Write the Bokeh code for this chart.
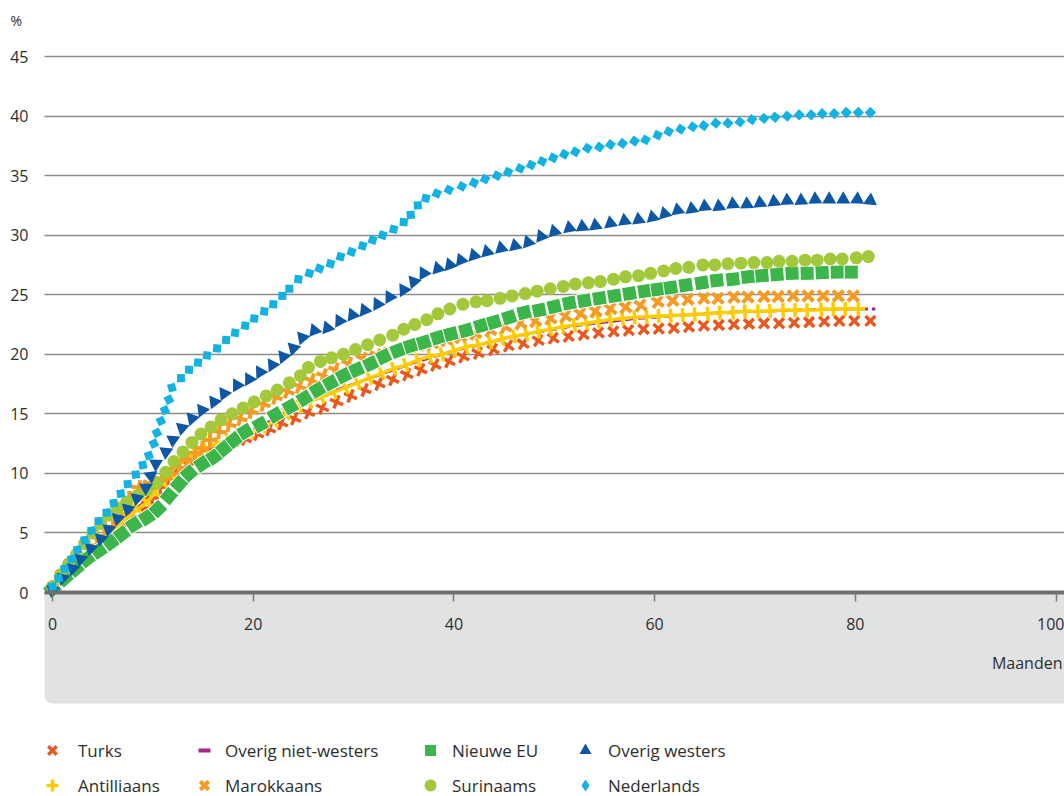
import numpy as np
from bokeh.plotting import figure
from bokeh.models import (Range1d, LinearAxis, FixedTicker, Label, BoxAnnotation,
                          Legend, LegendItem, Grid)
from bokeh.embed import file_html
from bokeh.resources import INLINE

FONT = "Open Sans"
TXT = "#2e2e2e"

# ---------------- data (months, percentage) ----------------
x_ticks = [0, 20, 40, 60, 80, 100]
y_ticks = [0, 5, 10, 15, 20, 25, 30, 35, 40, 45]

tur_m = [0, 1.0, 2.0, 3.0, 4.0, 5.0, 6.0, 7.0, 8.0, 9.0, 9.9, 10.7, 11.5, 12.4, 13.4, 14.5, 15.6, 16.8, 18.0, 19.2,
         20.4, 21.6, 22.8, 24.1, 25.5, 26.9, 28.3, 29.7, 31.1, 32.5, 33.9, 35.3, 36.7, 38.1, 39.5, 40.9, 42.4, 43.9,
         45.4, 46.9, 48.4, 49.9, 51.4, 52.9, 54.4, 55.9, 57.4, 58.9, 60.4, 61.9, 63.4, 64.9, 66.4, 67.9, 69.4, 70.9,
         72.4, 73.9, 75.4, 76.9, 78.4, 79.9, 81.5]
tur_v = [0.3, 1.1, 1.9, 2.7, 3.5, 4.3, 5.0, 5.7, 6.4, 7.1, 7.9, 8.8, 9.6, 10.3, 10.9, 11.4, 11.8, 12.2, 12.6, 12.9,
         13.3, 13.7, 14.2, 14.6, 15.1, 15.5, 16.0, 16.5, 17.0, 17.5, 17.9, 18.3, 18.7, 19.1, 19.4, 19.8, 20.1, 20.4,
         20.7, 20.9, 21.15, 21.35, 21.5, 21.65, 21.8, 21.9, 22.0, 22.1, 22.15, 22.2, 22.3, 22.4, 22.45, 22.5, 22.55,
         22.6, 22.6, 22.65, 22.7, 22.75, 22.8, 22.8, 22.8]

ant_m = [0, 0.9, 1.8, 2.7, 3.6, 4.6, 5.5, 6.5, 7.5, 8.5, 9.4, 10.2, 10.9, 11.6, 12.4, 13.3, 14.3, 15.3, 16.4, 17.5,
         18.6, 19.7, 20.9, 22.1, 23.3, 24.5, 25.6, 26.8, 28.0, 29.2, 30.4, 31.6, 32.8, 34.0, 35.2, 36.4, 37.6, 38.8,
         40.0, 41.2, 42.4, 43.6, 44.8, 46.0, 47.2, 48.4, 49.6, 50.8, 52.0, 53.2, 54.4, 55.6, 56.8, 58.0, 59.2, 60.4,
         61.6, 62.8, 64.0, 65.3, 66.5, 67.8, 69.0, 70.3, 71.5, 72.8, 74.0, 75.2, 76.6, 77.8, 79.0, 80.3]
ant_v = [0.4, 1.2, 2.0, 2.8, 3.5, 4.2, 4.9, 5.6, 6.3, 7.0, 7.6, 8.4, 9.2, 10.0, 10.6, 11.2, 11.7, 12.1, 12.5, 12.8,
         13.1, 13.4, 13.9, 14.4, 15.0, 15.6, 16.0, 16.4, 16.8, 17.2, 17.6, 18.0, 18.4, 18.8, 19.1, 19.5, 19.8, 20.0,
         20.3, 20.6, 20.8, 21.0, 21.3, 21.5, 21.7, 21.9, 22.1, 22.3, 22.45, 22.6, 22.75, 22.9, 23.0, 23.1, 23.15, 23.2,
         23.25, 23.3, 23.35, 23.4, 23.5, 23.5, 23.6, 23.6, 23.65, 23.7, 23.7, 23.7, 23.75, 23.8, 23.8, 23.8]

onw_m = [0, 2, 4, 6, 8, 9, 10, 11, 12, 13, 14, 16, 18, 20, 22, 24, 26, 28, 30, 32, 34, 36, 38, 40, 42, 44, 46, 48,
         50, 52, 54, 56, 58, 60, 62, 64, 66, 68, 70, 72, 74, 76, 78, 80, 82]
onw_v = [0.3, 2.0, 3.7, 5.3, 6.8, 7.5, 8.4, 9.4, 10.2, 10.8, 11.4, 12.3, 13.0, 13.7, 14.5, 15.5, 16.2, 16.9, 17.5,
         18.1, 18.7, 19.3, 19.8, 20.3, 20.7, 21.1, 21.5, 21.8, 22.1, 22.4, 22.6, 22.8, 23.0, 23.1, 23.25, 23.35,
         23.45, 23.55, 23.6, 23.65, 23.7, 23.75, 23.8, 23.8, 23.8]

mar_m = [0, 0.9, 1.8, 2.7, 3.6, 4.4, 5.2, 6.0, 6.8, 7.7, 8.6, 9.7, 10.8, 11.8, 12.6, 13.4, 14.2, 14.9, 15.7, 16.6,
         17.6, 18.7, 19.8, 21.0, 22.2, 23.4, 24.6, 25.8, 27.0, 28.2, 29.5, 30.9, 32.3, 33.6, 35.0, 36.4, 37.8, 39.2,
         40.6, 42.1, 43.6, 45.1, 46.6, 48.1, 49.6, 51.1, 52.6, 54.1, 55.6, 57.1, 58.6, 60.3, 61.8, 63.3, 64.9, 66.3,
         67.9, 69.3, 70.9, 72.3, 73.8, 75.3, 76.8, 78.3, 79.8]
mar_v = [0.3, 1.2, 2.1, 3.0, 3.9, 4.7, 5.5, 6.2, 7.0, 7.9, 8.8, 9.1, 9.5, 10.0, 10.5, 11.1, 11.7, 12.1, 12.8, 13.5,
         14.1, 14.6, 15.2, 15.8, 16.4, 16.9, 17.3, 17.8, 18.2, 18.7, 19.2, 19.6, 19.9, 20.2, 20.5, 20.7, 20.9, 21.2,
         21.45, 21.75, 22.0, 22.3, 22.6, 22.8, 23.0, 23.2, 23.4, 23.6, 23.8, 23.95, 24.1, 24.4, 24.5, 24.6, 24.7,
         24.7, 24.8, 24.8, 24.85, 24.85, 24.9, 24.9, 24.9, 24.9, 24.9]

neu_m = [0, 1.2, 2.3, 3.4, 4.6, 5.8, 6.9, 8.1, 9.4, 10.5, 11.6, 12.6, 13.6, 14.9, 16.1, 17.1, 18.1, 19.2, 20.7, 22.2,
         23.7, 25.1, 26.4, 27.7, 29.0, 30.3, 31.7, 33.0, 34.4, 35.7, 37.0, 38.4, 39.7, 41.2, 42.7, 44.0, 45.5, 47.0,
         48.5, 50.0, 51.5, 53.0, 54.5, 56.0, 57.5, 59.0, 60.3, 61.6, 63.1, 64.7, 66.2, 67.8, 69.3, 70.7, 72.2, 73.7,
         75.2, 76.7, 78.2, 79.6]
neu_v = [0.3, 1.2, 2.0, 2.8, 3.5, 4.2, 4.9, 5.7, 6.3, 7.0, 8.1, 9.1, 10.0, 10.8, 11.4, 12.1, 12.8, 13.5, 14.1, 14.9,
         15.6, 16.3, 17.0, 17.6, 18.2, 18.7, 19.2, 19.8, 20.3, 20.7, 21.0, 21.4, 21.7, 22.0, 22.4, 22.7, 23.1, 23.5,
         23.7, 24.0, 24.3, 24.5, 24.7, 24.9, 25.1, 25.3, 25.45, 25.6, 25.8, 26.0, 26.2, 26.3, 26.5, 26.6, 26.7, 26.8,
         26.8, 26.85, 26.9, 26.9]

sur_m = [0, 0.8, 1.6, 2.4, 3.2, 4.0, 4.8, 5.6, 6.5, 7.4, 8.4, 9.4, 10.4, 11.3, 12.1, 13.0, 13.9, 14.8, 15.8, 16.8,
         17.9, 19.0, 20.1, 21.3, 22.4, 23.6, 24.7, 25.5, 26.7, 27.8, 29.0, 30.2, 31.4, 32.6, 33.9, 35.0, 36.1, 37.3,
         38.4, 39.6, 40.9, 42.2, 43.3, 44.6, 45.8, 47.1, 48.3, 49.6, 50.9, 52.1, 53.4, 54.6, 55.9, 57.1, 58.4, 59.6,
         60.9, 62.1, 63.4, 64.8, 66.0, 67.3, 68.6, 69.9, 71.2, 72.4, 73.7, 75.0, 76.2, 77.5, 78.7, 80.1, 81.3]
sur_v = [0.5, 1.5, 2.4, 3.2, 4.1, 5.0, 5.8, 6.5, 7.1, 7.6, 8.1, 8.6, 9.2, 10.1, 11.0, 11.8, 12.6, 13.3, 13.9, 14.5,
         15.0, 15.5, 16.0, 16.5, 17.0, 17.6, 18.2, 18.9, 19.4, 19.7, 20.0, 20.4, 20.8, 21.2, 21.6, 22.1, 22.5, 22.9,
         23.4, 23.8, 24.2, 24.4, 24.5, 24.7, 24.9, 25.1, 25.3, 25.5, 25.7, 25.9, 26.0, 26.1, 26.3, 26.5, 26.6, 26.8,
         27.0, 27.2, 27.3, 27.5, 27.5, 27.6, 27.65, 27.7, 27.7, 27.8, 27.8, 27.9, 27.9, 28.0, 28.0, 28.1, 28.2]

ow_m = [0, 1.0, 2.0, 2.8, 3.8, 4.8, 5.6, 6.5, 7.5, 8.4, 9.3, 9.8, 10.3, 11.3, 12.0, 12.9, 13.9, 14.9, 16.1, 17.1,
        18.4, 19.6, 20.7, 21.9, 23.0, 24.0, 24.9, 26.1, 27.4, 28.6, 29.9, 31.1, 32.4, 33.6, 35.0, 36.0, 37.0, 38.4,
        39.6, 40.7, 42.0, 43.3, 44.7, 46.1, 47.4, 48.7, 50.0, 51.5, 52.8, 54.1, 55.6, 57.0, 58.4, 59.8, 61.0, 62.3,
        63.7, 65.0, 66.4, 67.8, 69.2, 70.5, 71.9, 73.2, 74.6, 76.0, 77.4, 78.8, 80.2, 81.5]
ow_v = [0.2, 1.2, 2.0, 2.8, 3.7, 4.5, 5.3, 6.2, 7.0, 7.9, 8.8, 9.8, 10.8, 11.8, 12.8, 13.8, 14.6, 15.3, 16.0, 16.7,
        17.4, 17.9, 18.5, 19.1, 19.8, 20.5, 21.4, 22.0, 22.2, 22.8, 23.3, 23.7, 24.2, 24.8, 25.4, 26.1, 26.8, 27.2,
        27.5, 27.9, 28.3, 28.6, 28.9, 29.1, 29.4, 29.9, 30.3, 30.6, 30.7, 30.8, 31.0, 31.2, 31.3, 31.5, 31.8, 32.1,
        32.2, 32.4, 32.4, 32.6, 32.6, 32.7, 32.8, 32.9, 32.9, 33.0, 33.0, 33.0, 33.0, 32.9]

ned_m = [0, 0.6, 1.2, 1.9, 2.5, 3.2, 3.9, 4.6, 5.4, 6.1, 6.8, 7.5, 8.3, 9.0, 9.6, 10.1, 10.4, 10.8, 11.2, 11.6,
         11.9, 12.8, 13.6, 14.5, 15.4, 16.4, 17.3, 18.2, 19.2, 20.1, 21.1, 22.0, 22.9, 23.6, 24.5, 25.6, 26.6, 27.7,
         28.7, 29.8, 30.9, 31.9, 32.9, 34.0, 35.0, 35.7, 36.4, 37.2, 38.3, 39.5, 40.8, 42.0, 43.1, 44.3, 45.4, 46.6,
         47.7, 48.8, 49.9, 51.0, 52.1, 53.3, 54.5, 55.6, 56.8, 58.0, 59.1, 60.3, 61.4, 62.6, 63.8, 64.9, 66.1, 67.3,
         68.5, 69.7, 70.9, 72.0, 73.2, 74.4, 75.6, 76.7, 77.9, 79.1, 80.3, 81.5]
ned_v = [0.5, 1.2, 2.0, 2.8, 3.6, 4.4, 5.2, 6.0, 6.7, 7.5, 8.3, 9.1, 9.9, 10.7, 11.5, 12.5, 13.4, 14.4, 15.3, 16.2,
         17.2, 18.0, 18.7, 19.3, 19.9, 20.5, 21.2, 21.8, 22.4, 23.0, 23.6, 24.2, 24.9, 25.5, 26.3, 26.8, 27.2, 27.6,
         28.2, 28.6, 29.1, 29.6, 30.0, 30.5, 31.1, 31.7, 32.5, 33.1, 33.5, 33.8, 34.1, 34.4, 34.7, 35.0, 35.3, 35.6,
         35.9, 36.2, 36.5, 36.8, 37.0, 37.3, 37.4, 37.6, 37.7, 37.9, 38.0, 38.4, 38.7, 38.9, 39.1, 39.2, 39.4, 39.4,
         39.5, 39.7, 39.8, 39.9, 40.0, 40.1, 40.1, 40.2, 40.2, 40.3, 40.3, 40.3]

# ---------------- styling ----------------
C_TUR = "#E9581F"
C_ANT = "#FFCC00"
C_ONW = "#A6248E"
C_MAR = "#F59A23"
C_NEU = "#3CB54A"
C_SUR = "#A3C83B"
C_OW = "#0C57A6"
C_NED = "#12B2E2"

W, H = 1064, 796
SX = 10.035          # px per month
SY = 11.911          # px per percentage point
X0_PX, Y0_PX = 52, 592   # pixel position of the (0, 0) corner
X_LEFT = -(X0_PX - 44) / SX      # left end of the plotting area (in months)
X_MIN = -X0_PX / SX
X_MAX = (W - X0_PX) / SX
Y_MAX = Y0_PX / SY
Y_MIN = -(H - Y0_PX) / SY


def pts(m, v):
    n = min(len(m), len(v))
    return np.asarray(m[:n], float), np.asarray(v[:n], float)


def along(m, v):
    return np.arctan2(np.gradient(v) * SY, np.gradient(m) * SX)


p = figure(width=W, height=H, output_backend="svg", toolbar_location=None,
           x_range=Range1d(X_MIN, X_MAX), y_range=Range1d(Y_MIN, Y_MAX),
           x_axis_location=None, y_axis_location=None,
           min_border_left=0, min_border_right=0, min_border_top=0, min_border_bottom=0)
p.outline_line_color = None
p.background_fill_color = "white"
p.border_fill_color = "white"
p.grid.visible = False

yt = FixedTicker(ticks=y_ticks)
grid = Grid(dimension=1, ticker=yt, grid_line_color="#8c8c8c", grid_line_width=1.3)
p.add_layout(grid)
# white margin to the left of the plotting area (hides the grid there)
p.add_layout(BoxAnnotation(right=X_LEFT, fill_color="white", fill_alpha=1.0,
                           line_color=None, level="underlay"))

band = BoxAnnotation(left=X_LEFT, bottom=-9.32, top=0, fill_color="#E1E2E4", fill_alpha=1.0,
                     line_color=None, level="underlay")
try:
    band.border_radius = (0, 0, 0, 8)
except Exception:
    pass
p.add_layout(band)

yaxis = LinearAxis(ticker=yt, fixed_location=X_LEFT, axis_line_color=None,
                   major_tick_line_color=None, minor_tick_line_color=None,
                   major_tick_in=0, major_tick_out=0, major_label_standoff=16,
                   major_label_text_font=FONT, major_label_text_font_size="16px",
                   major_label_text_color=TXT)
p.add_layout(yaxis, "left")

xaxis = LinearAxis(ticker=FixedTicker(ticks=x_ticks), fixed_location=0, bounds=(X_LEFT, X_MAX),
                   axis_line_color="#6e6e6e", axis_line_width=4,
                   major_tick_line_color="#7a7a7a", major_tick_line_width=1.5,
                   major_tick_in=0, major_tick_out=9, minor_tick_line_color=None,
                   major_label_standoff=16, major_label_text_font=FONT,
                   major_label_text_font_size="16px", major_label_text_color=TXT)
p.add_layout(xaxis, "below")

# ---------------- series ----------------
m, v = pts(onw_m, onw_v)
r_onw = p.line(m, v, line_color=C_ONW, line_width=3, line_dash="9 4")
g_onw = p.line(m, v, line_color=C_ONW, line_width=4, line_dash="0 9 12 40", visible=False)

m, v = pts(tur_m, tur_v)
r_tur = p.scatter(m, v, marker="x", size=14, line_color=C_TUR, line_width=3.5, angle=along(m, v))

m, v = pts(ant_m, ant_v)
r_ant = p.scatter(m, v, marker="cross", size=14, line_color=C_ANT, line_width=3.5, angle=along(m, v))

m, v = pts(mar_m, mar_v)
r_mar = p.scatter(m, v, marker="x", size=15, line_color=C_MAR, line_width=4, angle=along(m, v))

m, v = pts(neu_m, neu_v)
r_neu = p.scatter(m, v, marker="square", size=14, fill_color=C_NEU, line_color="white",
                  line_width=1, angle=along(m, v))

m, v = pts(sur_m, sur_v)
r_sur = p.scatter(m, v, marker="circle", size=13, fill_color=C_SUR, line_color=None)

m, v = pts(ow_m, ow_v)
r_ow = p.scatter(m, v, marker="triangle", size=14, fill_color=C_OW, line_color=None, angle=along(m, v))

m, v = pts(ned_m, ned_v)
r_ned = p.scatter(m, v, marker="square", size=8, fill_color=C_NED, line_color=None,
                  angle=along(m, v) + np.pi / 4)
g_ned = p.scatter(m, v, marker="diamond", size=12, fill_color=C_NED, line_color=None, visible=False)

# ---------------- texts ----------------
p.add_layout(Label(x=-4.19, y=48.0, text="%", text_font=FONT, text_font_size="14px",
                   text_color=TXT, text_align="left", text_baseline="middle"))
p.add_layout(Label(x=X_MAX - 0.2, y=-5.96, text="Maanden", text_font=FONT, text_font_size="16px",
                   text_color=TXT, text_align="right", text_baseline="middle"))

# ---------------- legend (4 columns x 2 rows) ----------------
columns = [
    ([("Turks", r_tur), ("Antilliaans", r_ant)], 37, 11),
    ([("Overig niet-westers", g_onw), ("Marokkaans", r_mar)], 189, 6),
    ([("Nieuwe EU", r_neu), ("Surinaams", r_sur)], 415, 7),
    ([("Overig westers", r_ow), ("Nederlands", g_ned)], 570, 8),
]
for entries, lx, stand in columns:
    lg = Legend(items=[LegendItem(label=t, renderers=[r]) for t, r in entries],
                location=(lx, -4), orientation="vertical",
                glyph_width=30, glyph_height=30, label_height=30, spacing=5,
                label_standoff=stand, padding=0, margin=0,
                border_line_color=None, background_fill_alpha=0,
                inactive_fill_alpha=0,
                label_text_font=FONT, label_text_font_size="17px", label_text_color=TXT)
    p.add_layout(lg)

open("out.html", "w").write(file_html(p, INLINE))
